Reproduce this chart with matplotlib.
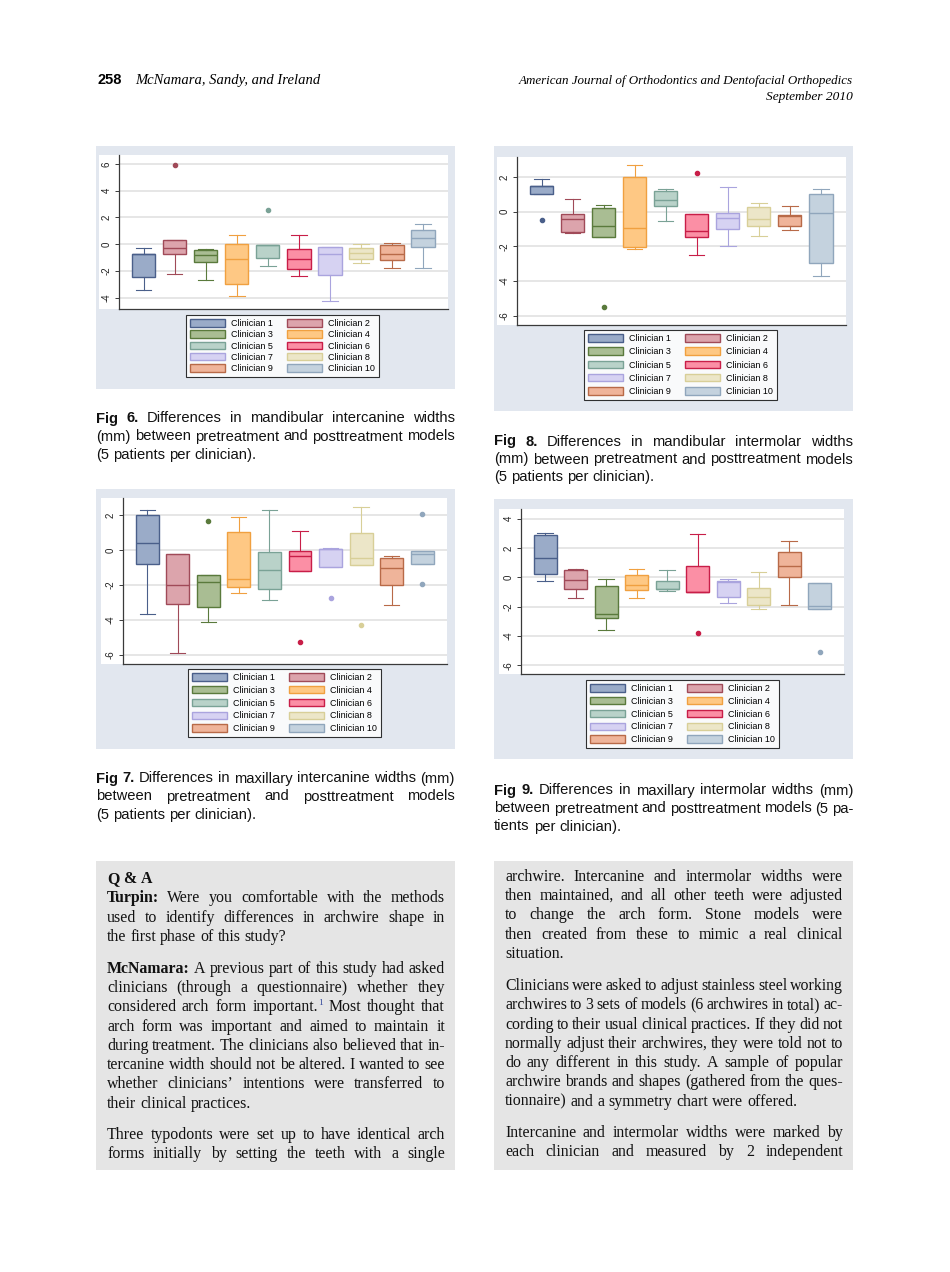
import matplotlib
matplotlib.use('Agg')
import matplotlib.pyplot as plt
from matplotlib.patches import Rectangle, Patch

W, H = 950, 1272
plt.rcParams['axes.unicode_minus'] = False
plt.rcParams['font.family'] = ['Liberation Sans', 'DejaVu Sans']

clinicians = ['Clinician %d' % i for i in range(1, 11)]
fills = ['#9aabc8', '#dca4ac', '#a9bd93', '#fec884', '#b9d2c9',
         '#fb8fa5', '#d6d2f2', '#ece6c8', '#efb49a', '#c4d2de']
edges = ['#4a5f8a', '#a04a58', '#5a7a3c', '#f0a040', '#7aa296',
         '#c81e48', '#aaa4de', '#d8cf98', '#b86a48', '#90a6bc']

# Fig 6 - mandibular intercanine
fig6_lo = [-3.40, -2.25, -2.68, -3.85, -1.61, -2.38, -4.25, -1.38, -1.78, -1.78]
fig6_q1 = [-2.43, -0.76, -1.31, -2.95, -1.03, -1.83, -2.33, -1.13, -1.21, -0.18]
fig6_med = [-0.76, -0.28, -0.81, -1.13, -0.08, -1.13, -0.73, -0.68, -0.71, 0.44]
fig6_q3 = [-0.76, 0.34, -0.41, 0.04, -0.08, -0.33, -0.23, -0.31, -0.06, 1.09]
fig6_hi = [-0.26, 0.34, -0.33, 0.69, -0.08, 0.69, -0.18, 0.00, 0.11, 1.54]
fig6_out = [[], [5.93], [], [], [2.56], [], [], [], [], []]
fig6_ticks = [-4, -2, 0, 2, 4, 6]

# Fig 8 - mandibular intermolar
fig8_lo = [1.00, -1.25, -1.46, -2.17, -0.56, -2.48, -1.98, -1.42, -1.08, -3.73]
fig8_q1 = [1.00, -1.19, -1.46, -2.06, 0.33, -1.44, -1.02, -0.85, -0.85, -2.96]
fig8_med = [1.46, -0.42, -0.85, -0.96, 0.67, -1.13, -0.35, -0.42, -0.25, -0.10]
fig8_q3 = [1.46, -0.13, 0.19, 2.02, 1.17, -0.12, -0.06, 0.25, -0.17, 1.02]
fig8_hi = [1.88, 0.71, 0.40, 2.67, 1.29, -0.12, 1.42, 0.52, 0.35, 1.33]
fig8_out = [[-0.50], [], [-5.52], [], [], [2.21], [], [], [], []]
fig8_ticks = [-6, -4, -2, 0, 2]

# Fig 7 - maxillary intercanine
fig7_lo = [-3.67, -5.92, -4.13, -2.48, -2.87, -1.23, -1.00, -0.88, -3.13, -0.79]
fig7_q1 = [-0.82, -3.11, -3.29, -2.12, -2.24, -1.23, -1.00, -0.88, -2.03, -0.79]
fig7_med = [0.40, -2.03, -1.85, -1.66, -1.15, -0.37, 0.03, -0.48, -1.05, -0.25]
fig7_q3 = [1.98, -0.21, -1.45, 1.01, -0.12, -0.08, 0.03, 0.97, -0.44, -0.08]
fig7_hi = [2.29, -0.21, -1.45, 1.90, 2.27, 1.06, 0.13, 2.44, -0.33, -0.08]
fig7_out = [[], [], [1.68], [], [], [-5.25], [-2.75], [-4.28], [], [2.06, -1.93]]
fig7_ticks = [-6, -4, -2, 0, 2]

# Fig 9 - maxillary intermolar
fig9_lo = [-0.27, -1.43, -3.59, -1.43, -0.93, -1.00, -1.77, -2.14, -1.86, -2.16]
fig9_q1 = [0.20, -0.82, -2.80, -0.86, -0.82, -1.00, -1.36, -1.86, 0.00, -2.16]
fig9_med = [1.34, -0.20, -2.52, -0.55, -0.77, -1.00, -0.30, -1.32, 0.77, -1.98]
fig9_q3 = [2.86, 0.52, -0.59, 0.14, -0.27, 0.75, -0.27, -0.75, 1.70, -0.36]
fig9_hi = [3.00, 0.59, -0.11, 0.59, 0.48, 2.98, -0.11, 0.34, 2.48, -0.36]
fig9_out = [[], [], [], [], [], [-3.77], [], [], [], [-5.11]]
fig9_ticks = [-6, -4, -2, 0, 2, 4]

fig = plt.figure(figsize=(W / 100, H / 100), dpi=100)
fig.patch.set_facecolor('white')

# page layer in pixel units
bg = fig.add_axes([0, 0, 1, 1])
bg.set_xlim(0, W)
bg.set_ylim(H, 0)
bg.axis('off')
renderer = fig.canvas.get_renderer()

PANEL = '#e2e7ef'
BOXGRAY = '#e5e5e5'


def chart(panel, axpx, white_x, ylim, ticks, lo, q1, med, q3, hi, out, leg_top, lspace):
    px, py, pw, ph = panel
    bg.add_patch(Rectangle((px, py), pw, ph, color=PANEL, lw=0))
    l, t, r, b = axpx
    bg.add_patch(Rectangle((white_x, t), r - white_x, b - t, color='white', lw=0))
    ax = fig.add_axes([l / W, 1 - b / H, (r - l) / W, (b - t) / H])
    stats = []
    for i in range(10):
        stats.append(dict(whislo=lo[i], q1=q1[i], med=med[i], q3=q3[i],
                          whishi=hi[i], fliers=out[i]))
    res = ax.bxp(stats, positions=range(1, 11), widths=0.75, capwidths=0.5,
                 patch_artist=True, showfliers=True)
    for i in range(10):
        res['boxes'][i].set(facecolor=fills[i], edgecolor=edges[i], lw=1.0)
        res['medians'][i].set(color=edges[i], lw=1.0)
        for k in (2 * i, 2 * i + 1):
            res['whiskers'][k].set(color=edges[i], lw=0.8)
            res['caps'][k].set(color=edges[i], lw=0.8)
        res['fliers'][i].set(marker='o', markerfacecolor=edges[i],
                             markeredgecolor=edges[i], markersize=3)
    ax.set_xlim(0.2, 10.8)
    ax.set_ylim(*ylim)
    ax.set_yticks(ticks)
    ax.set_xticks([])
    ax.set_axisbelow(True)
    ax.grid(axis='y', color='#e4e4e4', lw=1.3)
    for s in ('top', 'right'):
        ax.spines[s].set_visible(False)
    for s in ('left', 'bottom'):
        ax.spines[s].set_color('#3a3a3a')
        ax.spines[s].set_linewidth(0.9)
    ax.tick_params(axis='y', direction='out', length=3, width=0.7, color='#3a3a3a',
                   labelsize=7, labelrotation=90, pad=2, labelcolor='#222222')
    for lab in ax.get_yticklabels():
        lab.set_va('center')

    order = [0, 2, 4, 6, 8, 1, 3, 5, 7, 9]
    handles = [Patch(facecolor=fills[i], edgecolor=edges[i], lw=1) for i in order]
    labels = [clinicians[i] for i in order]
    leg = ax.legend(handles, labels, ncol=2, loc='upper center',
                    bbox_to_anchor=(leg_top[0] / W, 1 - leg_top[1] / H),
                    bbox_transform=fig.transFigure, fontsize=6.5, frameon=True,
                    fancybox=False, handlelength=3.9, handleheight=0.9,
                    handletextpad=0.65, columnspacing=1.5, labelspacing=lspace,
                    borderpad=0.45, borderaxespad=0)
    leg.get_frame().set_edgecolor('black')
    leg.get_frame().set_linewidth(0.8)
    leg.get_frame().set_facecolor('white')
    return ax


chart((96, 146, 359, 243), (118.7, 155, 448, 309), 99, (-4.85, 6.67), fig6_ticks,
      fig6_lo, fig6_q1, fig6_med, fig6_q3, fig6_hi, fig6_out, (282.5, 315), 0.25)
chart((494, 146, 359, 265), (516.7, 156.7, 845.7, 325), 497, (-6.54, 3.17), fig8_ticks,
      fig8_lo, fig8_q1, fig8_med, fig8_q3, fig8_hi, fig8_out, (680.5, 330), 0.47)
chart((96, 489, 359, 260), (122.7, 498, 446.7, 664), 101, (-6.53, 2.97), fig7_ticks,
      fig7_lo, fig7_q1, fig7_med, fig7_q3, fig7_hi, fig7_out, (284.5, 669), 0.42)
chart((494, 499, 359, 260), (520.7, 509, 844, 674), 499, (-6.59, 4.66), fig9_ticks,
      fig9_lo, fig9_q1, fig9_med, fig9_q3, fig9_hi, fig9_out, (682.5, 680), 0.42)


def line(words, x0, x1, y, size, family, justify, space_em):
    parts = []
    total = 0
    for w in words:
        bold = w.startswith('**')
        if bold:
            w = w[2:]
        sup = None
        if '^' in w:
            w, sup = w.split('^')
        t = bg.text(0, y, w, fontsize=size, family=family, va='baseline', ha='left',
                    weight='bold' if bold else 'normal', color='#111111')
        wd = t.get_window_extent(renderer).width
        s = None
        if sup:
            s = bg.text(0, y - size * 0.55, sup, fontsize=size * 0.6, family=family,
                        va='baseline', ha='left', color='#3b4fa0')
            wd += s.get_window_extent(renderer).width
        parts.append((t, s, wd))
        total += wd
    space = size * 100 / 72 * space_em
    if justify and len(parts) > 1:
        gap = max((x1 - x0 - total) / (len(parts) - 1), 1.0)
    else:
        gap = space
    x = x0
    for t, s, wd in parts:
        t.set_x(x)
        if s is not None:
            s.set_x(x + t.get_window_extent(renderer).width + 0.5)
        x += wd + gap


def para(lines, x0, x1, y0, step, size, family, space_em, last_full=False):
    for k, ln in enumerate(lines):
        line(ln.split(), x0, x1, y0 + k * step, size, family,
             k < len(lines) - 1 or last_full, space_em)


# header
bg.text(97, 84, '258', fontsize=10.5, weight='bold', family='Liberation Sans',
        va='baseline', ha='left')
bg.text(135, 84, 'McNamara, Sandy, and Ireland', fontsize=10.5, style='italic',
        family='Liberation Serif', va='baseline', ha='left')
bg.text(853, 84, 'American Journal of Orthodontics and Dentofacial Orthopedics',
        fontsize=9.35, style='italic', family='Liberation Serif', va='baseline', ha='right')
bg.text(853, 100, 'September 2010', fontsize=9.6, style='italic',
        family='Liberation Serif', va='baseline', ha='right')

# captions
SANS = 'Liberation Sans'
CS = 10.6
para(['**Fig **6. Differences in mandibular intercanine widths',
      '(mm) between pretreatment and posttreatment models',
      '(5 patients per clinician).'], 96, 455, 422.5, 18, CS, SANS, 0.278)
para(['**Fig **8. Differences in mandibular intermolar widths',
      '(mm) between pretreatment and posttreatment models',
      '(5 patients per clinician).'], 494, 853, 445.5, 18, CS, SANS, 0.278)
para(['**Fig **7. Differences in maxillary intercanine widths (mm)',
      'between pretreatment and posttreatment models',
      '(5 patients per clinician).'], 96, 455, 782.5, 18, CS, SANS, 0.278)
para(['**Fig **9. Differences in maxillary intermolar widths (mm)',
      'between pretreatment and posttreatment models (5 pa-',
      'tients per clinician).'], 494, 853, 794.5, 18, CS, SANS, 0.278)

# text boxes
bg.add_patch(Rectangle((96, 861), 359, 309, color=BOXGRAY, lw=0))
bg.add_patch(Rectangle((494, 861), 359, 309, color=BOXGRAY, lw=0))
SERIF = 'Liberation Serif'
FS = 11.4
STEP = 19.3
para(['**Q **& **A'], 107, 445, 882.7, STEP, FS, SERIF, 0.25)
para(['**Turpin: Were you comfortable with the methods',
      'used to identify differences in archwire shape in',
      'the first phase of this study?'], 107, 445, 902.5, STEP, FS, SERIF, 0.25)
para(['**McNamara: A previous part of this study had asked',
      'clinicians (through a questionnaire) whether they',
      'considered arch form important.^1 Most thought that',
      'arch form was important and aimed to maintain it',
      'during treatment. The clinicians also believed that in-',
      'tercanine width should not be altered. I wanted to see',
      'whether clinicians\u2019 intentions were transferred to',
      'their clinical practices.'], 107, 445, 972.7, STEP, FS, SERIF, 0.25)
para(['Three typodonts were set up to have identical arch',
      'forms initially by setting the teeth with a single'],
     107, 445, 1138.7, STEP, FS, SERIF, 0.25, last_full=True)

para(['archwire. Intercanine and intermolar widths were',
      'then maintained, and all other teeth were adjusted',
      'to change the arch form. Stone models were',
      'then created from these to mimic a real clinical',
      'situation.'], 505, 843, 880.7, STEP, FS, SERIF, 0.25)
para(['Clinicians were asked to adjust stainless steel working',
      'archwires to 3 sets of models (6 archwires in total) ac-',
      'cording to their usual clinical practices. If they did not',
      'normally adjust their archwires, they were told not to',
      'do any different in this study. A sample of popular',
      'archwire brands and shapes (gathered from the ques-',
      'tionnaire) and a symmetry chart were offered.'], 505, 843, 990, STEP, FS, SERIF, 0.25)
para(['Intercanine and intermolar widths were marked by',
      'each clinician and measured by 2 independent'],
     505, 843, 1136.7, STEP, FS, SERIF, 0.25, last_full=True)

fig.savefig('out.png', dpi=100, facecolor='white')
